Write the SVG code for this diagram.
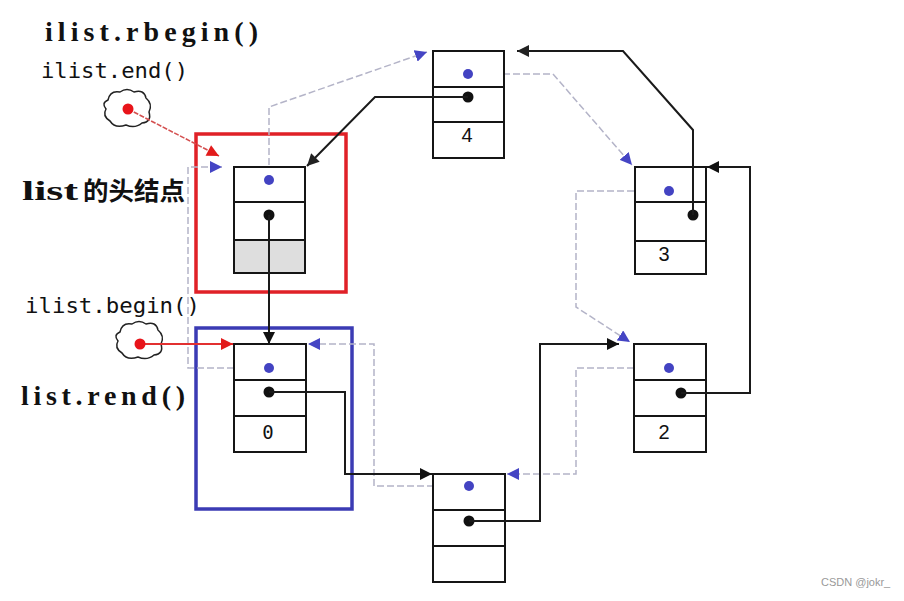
<svg xmlns="http://www.w3.org/2000/svg" xmlns:xlink="http://www.w3.org/1999/xlink" width="904" height="601" viewBox="0 0 904 601">
<style>
.box{fill:#fff;stroke:#151515;stroke-width:2}
.sep{stroke:#151515;stroke-width:2}
.bd{fill:#4343c2}
.kd{fill:#111}
.nx{fill:none;stroke:#1a1a1a;stroke-width:2}
.pv{fill:none;stroke:#b4b4c8;stroke-width:1.5;stroke-dasharray:7 3}
.num{font-family:"Liberation Sans",Arial,sans-serif;font-size:20px;fill:#111;text-anchor:middle}
.lblB{font-family:"Liberation Serif","Noto Sans CJK SC",serif;font-weight:bold;fill:#111}
.lblM{font-family:"DejaVu Sans Mono",monospace;fill:#111}
</style>
<defs>
<marker id="ak" viewBox="0 0 10 10" refX="10" refY="5" markerWidth="13" markerHeight="12" markerUnits="userSpaceOnUse" orient="auto"><path d="M0,0 L10,5 L0,10 z" fill="#111"/></marker>
<marker id="ag" viewBox="0 0 10 10" refX="10" refY="5" markerWidth="13" markerHeight="12" markerUnits="userSpaceOnUse" orient="auto"><path d="M0,0 L10,5 L0,10 z" fill="#222"/></marker>
<marker id="abl" viewBox="0 0 10 10" refX="10" refY="5" markerWidth="12" markerHeight="12" markerUnits="userSpaceOnUse" orient="auto"><path d="M0,0 L10,5 L0,10 z" fill="#4545c4"/></marker>
<marker id="ar" viewBox="0 0 10 10" refX="10" refY="5" markerWidth="14" markerHeight="12" markerUnits="userSpaceOnUse" orient="auto"><path d="M0,0 L10,5 L0,10 z" fill="#e21b1b"/></marker>
<path id="cloud" d="M108,100 Q110,90 120,92 Q127,87 134,92 Q144,89 146,98 Q153,104 149,112 Q152,122 142,123 Q135,129 126,125 Q115,129 110,121 Q102,116 106,109 Q101,103 108,100 Z" fill="#fff" stroke="#222" stroke-width="1.5"/>
</defs>
<rect width="904" height="601" fill="#fff"/>

<g id="labels">
<text class="lblB" x="45" y="41" font-size="28" textLength="213" lengthAdjust="spacing">ilist.rbegin()</text>
<text class="lblM" x="41" y="78" font-size="22" textLength="147" lengthAdjust="spacingAndGlyphs">ilist.end()</text>
<text class="lblB" x="22" y="200" font-size="27"><tspan textLength="56" lengthAdjust="spacingAndGlyphs">list</tspan><tspan x="83" font-size="25.5">的头结点</tspan></text>
<text class="lblM" x="25" y="313" font-size="22" textLength="175" lengthAdjust="spacingAndGlyphs">ilist.begin()</text>
<text class="lblB" x="21" y="405" font-size="28" textLength="164" lengthAdjust="spacing">list.rend()</text>
<text x="821" y="586" font-family="Liberation Sans,Arial,sans-serif" font-size="11" fill="#999">CSDN @jokr_</text>
</g>

<g id="frames">
<rect x="196" y="134" width="150" height="158" fill="none" stroke="#e02127" stroke-width="3.5"/>
<rect x="196" y="328" width="156" height="181" fill="none" stroke="#3b3bb4" stroke-width="3.5"/>
</g>

<g id="connectors-prev">
<path class="pv" d="M264,368 H188 V167 H222" marker-end="url(#abl)"/>
<path class="pv" d="M269,175 V107 L427,52" marker-end="url(#abl)"/>
<path class="pv" d="M473,74 H553 L632,165" marker-end="url(#abl)"/>
<path class="pv" d="M664,191 H576 V307 L630,342" marker-end="url(#abl)"/>
<path class="pv" d="M664,368 H576 V474 H507" marker-end="url(#abl)"/>
<path class="pv" d="M464,486 H374 V344 H308" marker-end="url(#abl)"/>
</g>

<g id="node-head">
<rect class="box" x="234" y="167" width="71" height="106"/>
<rect x="235" y="240" width="69" height="32" fill="#dedede"/>
<line class="sep" x1="234" y1="202" x2="305" y2="202"/>
<line class="sep" x1="234" y1="240" x2="305" y2="240"/>
<circle class="bd" cx="269" cy="180" r="5"/>
<circle class="kd" cx="269" cy="215" r="5.5"/>
</g>
<g id="node-4">
<rect class="box" x="433" y="51" width="71" height="107"/>
<line class="sep" x1="433" y1="87" x2="504" y2="87"/>
<line class="sep" x1="433" y1="122" x2="504" y2="122"/>
<circle class="bd" cx="468" cy="74" r="5"/>
<circle class="kd" cx="468" cy="97" r="5.5"/>
<text class="num" x="467" y="142">4</text>
</g>
<g id="node-3">
<rect class="box" x="635" y="167" width="71" height="107"/>
<line class="sep" x1="635" y1="202" x2="706" y2="202"/>
<line class="sep" x1="635" y1="241" x2="706" y2="241"/>
<circle class="bd" cx="669" cy="191" r="5"/>
<circle class="kd" cx="693" cy="215" r="5.5"/>
<text class="num" x="664" y="261">3</text>
</g>
<g id="node-2">
<rect class="box" x="634" y="344" width="72" height="108"/>
<line class="sep" x1="634" y1="380" x2="706" y2="380"/>
<line class="sep" x1="634" y1="416" x2="706" y2="416"/>
<circle class="bd" cx="669" cy="368" r="5"/>
<circle class="kd" cx="681" cy="393" r="5.5"/>
<text class="num" x="664" y="439">2</text>
</g>
<g id="node-0">
<rect class="box" x="234" y="344" width="72" height="108"/>
<line class="sep" x1="234" y1="380" x2="306" y2="380"/>
<line class="sep" x1="234" y1="416" x2="306" y2="416"/>
<circle class="bd" cx="269" cy="368" r="5"/>
<circle class="kd" cx="269" cy="392" r="5.5"/>
<text x="268" y="439" font-family="DejaVu Sans Mono,monospace" font-size="19" fill="#111" text-anchor="middle">0</text>
</g>
<g id="node-empty">
<rect class="box" x="433" y="474" width="72" height="108"/>
<line class="sep" x1="433" y1="510" x2="505" y2="510"/>
<line class="sep" x1="433" y1="546" x2="505" y2="546"/>
<circle class="bd" cx="469" cy="486" r="5"/>
<circle class="kd" cx="469" cy="521" r="5.5"/>
</g>

<g id="connectors-next">
<path class="nx" d="M269,215 V344" marker-end="url(#ak)"/>
<path class="nx" d="M269,392 H345 V474 H432" marker-end="url(#ak)"/>
<path class="nx" d="M469,521 H540 V344 H619" marker-end="url(#ak)"/>
<path class="nx" d="M681,393 H750 V167 H707" marker-end="url(#ak)"/>
<path class="nx" d="M693,215 V130 L623,51 H517" stroke="#333" marker-end="url(#ag)"/>
<path class="nx" d="M468,97 H375 L307,166" stroke="#555" stroke-width="1.6" marker-end="url(#ag)"/>
</g>

<g id="iterators">
<use xlink:href="#cloud"/>
<use xlink:href="#cloud" transform="translate(12,232)"/>
<line x1="128" y1="109" x2="219" y2="156" stroke="#d45050" stroke-width="1.6" stroke-dasharray="5 1.5" marker-end="url(#ar)"/>
<circle cx="128" cy="109" r="5.5" fill="#e8141a"/>
<line x1="140" y1="344" x2="233" y2="344" stroke="#e23030" stroke-width="1.8" marker-end="url(#ar)"/>
<circle cx="140" cy="344" r="5.5" fill="#e8141a"/>
</g>
</svg>
